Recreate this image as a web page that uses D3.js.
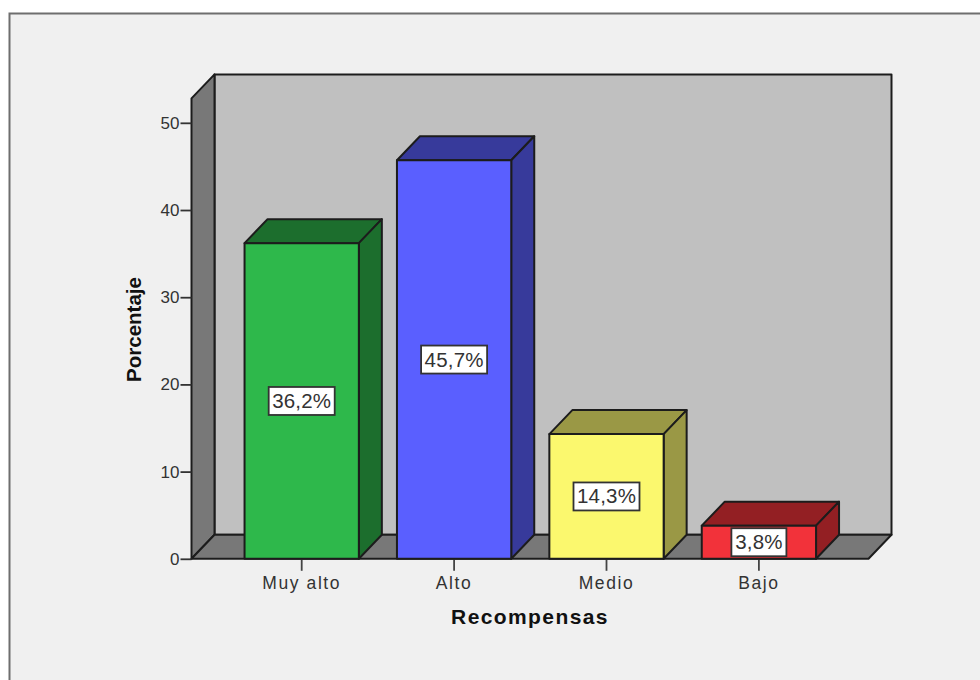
<!DOCTYPE html>
<html>
<head>
<meta charset="utf-8">
<script src="https://cdn.jsdelivr.net/npm/d3@7/dist/d3.min.js"></script>
<style>
html,body{margin:0;padding:0;background:#fff;}
svg{display:block;}
text{font-family:"Liberation Sans",Arial,sans-serif;}
</style>
</head>
<body>
<svg id="chart" width="980" height="680"></svg>
<script>
const categories = ["Muy alto", "Alto", "Medio", "Bajo"];
const percentages = [36.2, 45.7, 14.3, 3.8];
const valueLabels = ["36,2%", "45,7%", "14,3%", "3,8%"];
const frontColors = ["#2eb84b", "#5a5fff", "#fbf86e", "#f2323a"];
const topColors = ["#1c6e2d", "#373a9b", "#9a9845", "#931f23"];
const sideColors = ["#1c6e2d", "#373a9b", "#9a9845", "#931f23"];
const yTicks = [0, 10, 20, 30, 40, 50];

const svg = d3.select("#chart");
const ink = "#1c1c1c";
const depthX = 23, depthY = 24;

// Plot scales: the value axis ends where the front wall ends, just above 50.
const y = d3.scaleLinear().domain([0, 52.8]).range([558.8, 98.4]);
const x = d3.scaleBand().domain(categories).range([225.5, 835.1]).paddingInner(0.25).paddingOuter(0.125);

const floorLeft = 191.5, floorRight = 868.5;
const pts = a => a.map(p => p.join(",")).join(" ");

// Outer chart frame
svg.append("rect").attr("x", 9.5).attr("y", 13.5).attr("width", 1000).attr("height", 700)
  .attr("fill", "#f0f0f0").attr("stroke", "#6e6e6e").attr("stroke-width", 2);

const box = svg.append("g").attr("stroke", ink).attr("stroke-width", 2).attr("stroke-linejoin", "round");
const yTop = y.range()[1], y0 = y(0);

// Back wall, left wall and floor of the 3D box
box.append("polygon").attr("fill", "#c0c0c0").attr("points", pts([
  [floorLeft + depthX, yTop - depthY], [floorRight + depthX, yTop - depthY],
  [floorRight + depthX, y0 - depthY], [floorLeft + depthX, y0 - depthY]]));
box.append("polygon").attr("fill", "#787878").attr("points", pts([
  [floorLeft, yTop], [floorLeft + depthX, yTop - depthY],
  [floorLeft + depthX, y0 - depthY], [floorLeft, y0]]));
box.append("polygon").attr("fill", "#787878").attr("points", pts([
  [floorLeft, y0], [floorLeft + depthX, y0 - depthY],
  [floorRight + depthX, y0 - depthY], [floorRight, y0]]));

// Value axis
const yAxis = svg.append("g").attr("transform", `translate(${floorLeft},0)`)
  .call(d3.axisLeft(y).tickValues(yTicks).tickSize(11).tickPadding(1));
yAxis.select(".domain").remove();
yAxis.selectAll("line").attr("stroke", "#333").attr("stroke-width", 1.8);
yAxis.selectAll("text").attr("font-size", 17).attr("fill", "#333");

// Category axis
const xAxis = svg.append("g").attr("transform", `translate(0,${y0})`)
  .call(d3.axisBottom(x).tickSize(12).tickPadding(6));
xAxis.select(".domain").remove();
xAxis.selectAll("line").attr("stroke", "#444").attr("stroke-width", 1.8);
xAxis.selectAll("text").attr("font-size", 17.5).attr("letter-spacing", 1.6).attr("fill", "#333");

// Bars drawn as front, top and side faces
const bars = svg.append("g").selectAll("g").data(categories).join("g")
  .attr("stroke", ink).attr("stroke-width", 2).attr("stroke-linejoin", "round");
bars.each(function (c, i) {
  const g = d3.select(this);
  const l = x(c), r = l + x.bandwidth(), t = y(percentages[i]);
  g.append("polygon").attr("fill", topColors[i]).attr("points", pts([
    [l, t], [l + depthX, t - depthY], [r + depthX, t - depthY], [r, t]]));
  g.append("polygon").attr("fill", sideColors[i]).attr("points", pts([
    [r, t], [r + depthX, t - depthY], [r + depthX, y0 - depthY], [r, y0]]));
  g.append("rect").attr("x", l).attr("y", t).attr("width", r - l).attr("height", y0 - t)
    .attr("fill", frontColors[i]);
});

// Boxed value labels centred on each bar's front face
const labels = svg.append("g").selectAll("g").data(categories).join("g")
  .attr("transform", (c, i) => `translate(${x(c) + x.bandwidth() / 2},${(y(percentages[i]) + y0) / 2})`);
labels.each(function (c, i) {
  const g = d3.select(this);
  const w = valueLabels[i].length === 5 ? 66 : 55;
  g.append("rect").attr("x", -w / 2).attr("y", -14).attr("width", w).attr("height", 28)
    .attr("fill", "#fff").attr("stroke", "#333").attr("stroke-width", 1.8);
  g.append("text").attr("text-anchor", "middle").attr("y", 7)
    .attr("font-size", 20.5).attr("letter-spacing", 0.2).attr("fill", "#333").text(valueLabels[i]);
});

// Axis titles
svg.append("text").attr("x", 530).attr("y", 624).attr("text-anchor", "middle")
  .attr("font-size", 21).attr("font-weight", "bold").attr("letter-spacing", 1.4).attr("fill", "#111")
  .text("Recompensas");
svg.append("text").attr("transform", "translate(141,329.5) rotate(-90)").attr("text-anchor", "middle")
  .attr("font-size", 20.5).attr("font-weight", "bold").attr("fill", "#111")
  .text("Porcentaje");
</script>
</body>
</html>
